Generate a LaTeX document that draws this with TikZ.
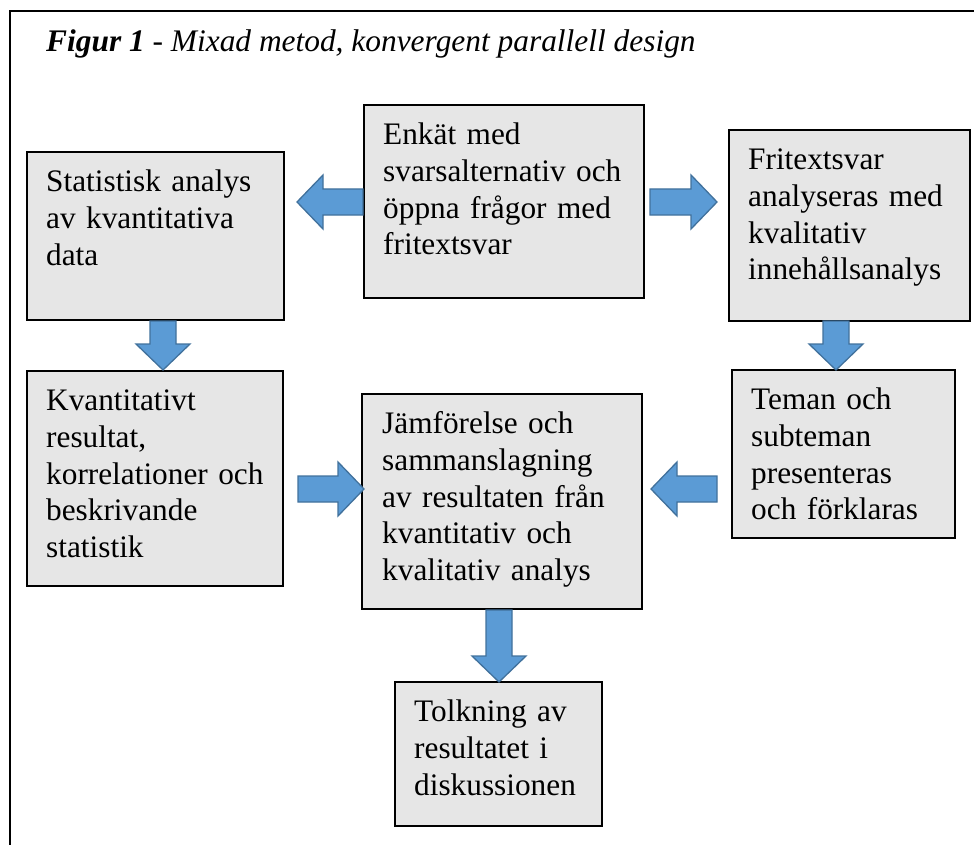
\documentclass[tikz,border=0pt]{standalone}
\usepackage{fontspec}
\setmainfont{Liberation Serif}
\usetikzlibrary{calc,fit}
\definecolor{boxgray}{HTML}{E6E6E6}
\definecolor{arrblue}{HTML}{5B9BD5}
\definecolor{arredge}{HTML}{41719C}
\begin{document}
\begin{tikzpicture}[x=1pt,y=-1pt,
  box/.style={draw=black, line width=2pt, fill=boxgray, rectangle, inner sep=0pt},
  txt/.style={anchor=north west, inner sep=0pt, text width=300pt, align=left,
    font=\fontsize{31.3}{36.6}\selectfont, execute at begin node=\strut},
  arrsty/.style={fill=arrblue, draw=arredge, line width=1.3pt, line join=miter},
  pics/barr/.style={code={\filldraw[arrsty] (0,-13) -- ({#1-26},-13) -- ({#1-26},-27) -- (#1,0) -- ({#1-26},27) -- ({#1-26},13) -- (0,13) -- cycle;}}]
\useasboundingbox (0,0) rectangle (974,845);
% frame
\draw[line width=2.5pt, line join=miter] (10,870) -- (10,11) -- (1000,11);
% title
\node[anchor=base west, inner sep=0pt, font=\fontsize{31.4}{36}\selectfont] (title) at (46,52)
  {\textbf{\textit{Figur 1}}\textit{ - Mixad metod, konvergent parallell design}};
% boxes
\node[box, fit={(364,105) (644,298)}] (enk) {};
\node[box, fit={(27,152) (284,320)}] (stat) {};
\node[box, fit={(729,130) (970,321)}] (frit) {};
\node[box, fit={(27,371) (283,586)}] (kvant) {};
\node[box, fit={(362,394) (642,609)}] (jamf) {};
\node[box, fit={(732,370) (955,538)}] (teman) {};
\node[box, fit={(395,682) (602,826)}] (tolk) {};
% texts
\node[txt] (tenk) at ([shift={(20,15)}]enk.north west) {Enkät med\\svarsalternativ och\\öppna frågor med\\fritextsvar};
\node[txt] (tstat) at ([shift={(20,15)}]stat.north west) {Statistisk analys\\av kvantitativa\\data};
\node[txt] (tfrit) at ([shift={(20,15)}]frit.north west) {Fritextsvar\\analyseras med\\kvalitativ\\innehållsanalys};
\node[txt] (tkvant) at ([shift={(20,15)}]kvant.north west) {Kvantitativt\\resultat,\\korrelationer och\\beskrivande\\statistik};
\node[txt] (tjamf) at ([shift={(21,15)}]jamf.north west) {Jämförelse och\\sammanslagning\\av resultaten från\\kvantitativ och\\kvalitativ analys};
\node[txt] (tteman) at ([shift={(20,15)}]teman.north west) {Teman och\\subteman\\presenteras\\och förklaras};
\node[txt] (ttolk) at ([shift={(20,15)}]tolk.north west) {Tolkning av\\resultatet i\\diskussionen};
% block arrows
\pic[rotate=180] (aEL) at (enk.west |- 0,202) {barr=66};
\pic (aER) at (650,202) {barr=67};
\pic[rotate=-90] (aSK) at (163,321) {barr=49};
\pic[rotate=-90] (aFT) at (836,321) {barr=49};
\pic (aKJ) at (298,489) {barr=66};
\pic[rotate=180] (aTJ) at (717,489) {barr=66};
\pic[rotate=-90] (aJT) at (499,610) {barr=72};
\end{tikzpicture}
\end{document}
